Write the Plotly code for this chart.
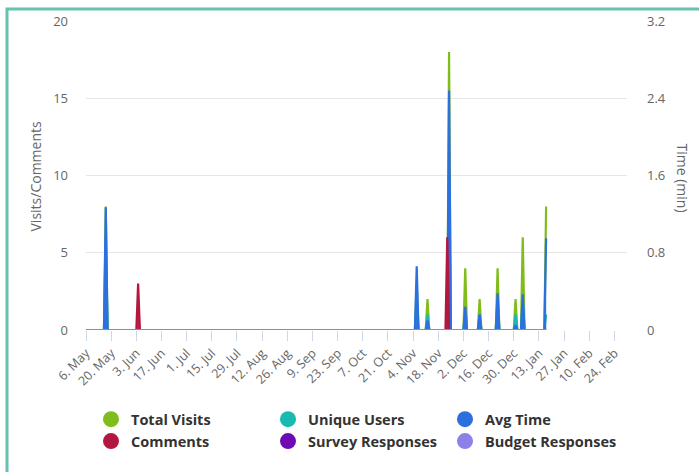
import pandas as pd
import plotly.graph_objects as go

# ---------------- data ----------------
data_start = "2019-05-06"
data_end = "2020-01-17"

visit_dates = ["2019-05-17", "2019-11-06", "2019-11-12", "2019-11-24", "2019-12-03",
               "2019-12-11", "2019-12-21", "2019-12-31", "2020-01-04", "2020-01-17"]
total_visits = [8, 3, 2, 18, 4, 2, 4, 2, 6, 8]
unique_users = [6, 2, 1, 10, 1, 1, 2, 1, 2, 1]
avg_time_min = [1.27, 0.66, 0.10, 2.48, 0.24, 0.16, 0.38, 0.05, 0.37, 0.95]

comment_dates = ["2019-06-04", "2019-11-23"]
comments = [3, 6]

survey_dates = []
survey_responses = []
budget_dates = []
budget_responses = []

series_names = ["Total Visits", "Unique Users", "Avg Time",
                "Comments", "Survey Responses", "Budget Responses"]
series_colors = ["#7fbc1c", "#1ab9b1", "#2c70df", "#b3163f", "#6e0ab4", "#8d80e8"]

# ---------------- daily series ----------------
days = pd.date_range(data_start, data_end, freq="D")


def daily(dates, values):
    s = pd.Series(values, index=pd.to_datetime(dates), dtype=float)
    return s.reindex(days, fill_value=0.0)


s_visits = daily(visit_dates, total_visits)
s_users = daily(visit_dates, unique_users)
s_time = daily(visit_dates, avg_time_min)
s_comments = daily(comment_dates, comments)
s_survey = daily(survey_dates, survey_responses)
s_budget = daily(budget_dates, budget_responses)

series = [(s_visits, "y"), (s_users, "y"), (s_time, "y2"),
          (s_comments, "y3"), (s_survey, "y3"), (s_budget, "y3")]


def rgba(hexc, a):
    h = hexc.lstrip("#")
    return "rgba(%d,%d,%d,%.2f)" % (int(h[0:2], 16), int(h[2:4], 16), int(h[4:6], 16), a)


fig = go.Figure()
for (s, ax), name, col in zip(series, series_names, series_colors):
    fig.add_trace(go.Scatter(
        x=s.index, y=s.values, yaxis=ax, name=name, mode="lines",
        line=dict(color=col, width=2.2), fill="tozeroy",
        fillcolor=rgba(col, 0.9), showlegend=False, hoverinfo="skip"))

# legend entries (circle markers), three columns
legend_ids = ["legend", "legend2", "legend3", "legend", "legend2", "legend3"]
for name, col, lg in zip(series_names, series_colors, legend_ids):
    fig.add_trace(go.Scatter(
        x=[None], y=[None], mode="markers", name=name, legend=lg,
        marker=dict(color=col, size=16, symbol="circle"), showlegend=True))

W, H = 699, 472
L, R, T, B = 86, 72, 18, 142
pw, ph = W - L - R, H - T - B


def px(xp):
    return (xp - L) / pw


def py(yp):
    return (H - B - yp) / ph


legend_font = dict(family="Open Sans", size=14.5, color="#333333", weight="bold")
leg_common = dict(orientation="v", xanchor="left", yanchor="top", font=legend_font,
                  bgcolor="rgba(0,0,0,0)", tracegroupgap=0, itemclick=False)

tick_font = dict(family="Open Sans", size=13, color="#666666")

fig.update_layout(
    width=W, height=H,
    margin=dict(l=L, r=R, t=T, b=B, pad=0),
    paper_bgcolor="white", plot_bgcolor="white",
    font=dict(family="Open Sans", color="#666666"),
    xaxis=dict(
        type="date", range=["2019-05-06", "2020-03-02"],
        tick0="2019-05-06", dtick=14 * 86400000, tickformat="%-d. %b",
        tickangle=-45, ticks="outside", ticklen=10, tickcolor="#ccd6eb",
        showgrid=False, showline=False, zeroline=False,
        tickfont=dict(family="Open Sans", size=12.5, color="#666666")),
    yaxis=dict(
        range=[0, 20], dtick=5, showgrid=True, gridcolor="#e6e6e6",
        zeroline=False, showline=False, ticks="", ticklabelstandoff=17,
        tickfont=tick_font),
    yaxis2=dict(
        overlaying="y", side="right", range=[0, 3.2], dtick=0.8,
        showgrid=False, zeroline=False, showline=False, ticks="",
        ticklabelstandoff=19, tickfont=tick_font),
    yaxis3=dict(overlaying="y", range=[0, 20], visible=False),
    legend=dict(x=px(91), y=py(404), **leg_common),
    legend2=dict(x=px(268), y=py(404), **leg_common),
    legend3=dict(x=px(445), y=py(404), **leg_common),
    annotations=[
        dict(text="Visits/Comments", xref="paper", yref="paper", x=px(35), y=py(175),
             showarrow=False, textangle=-90, font=dict(family="Open Sans", size=14, color="#666666"),
             xanchor="center", yanchor="middle"),
        dict(text="Time (min)", xref="paper", yref="paper", x=px(683), y=py(176),
             showarrow=False, textangle=90, font=dict(family="Open Sans", size=14, color="#666666"),
             xanchor="center", yanchor="middle"),
    ],
    shapes=[
        dict(type="rect", xref="paper", yref="paper",
             x0=px(7), x1=px(W + 20), y0=py(H + 20), y1=py(6),
             line=dict(color="#66c2b0", width=3), fillcolor="rgba(0,0,0,0)", layer="above"),
    ],
)

fig.write_html("out.html")
